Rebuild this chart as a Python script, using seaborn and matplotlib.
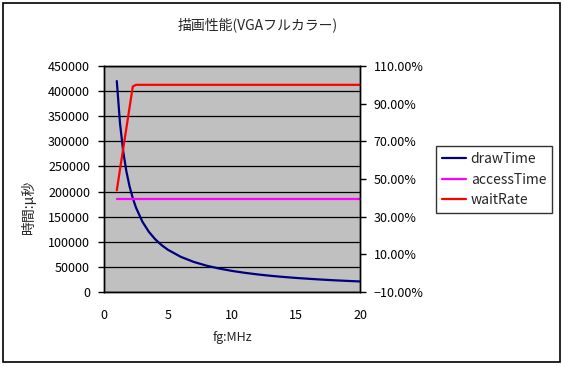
import matplotlib
matplotlib.use("Agg")
import matplotlib.pyplot as plt
import matplotlib.patches as mpatches
from matplotlib.lines import Line2D
import seaborn as sns
import pandas as pd
import numpy as np

fg = [1, 1.25, 1.5, 1.75, 2, 2.25, 2.5, 3, 3.5, 4, 4.5, 5, 6, 7, 8, 9, 10,
      11, 12, 13, 14, 15, 16, 17, 18, 19, 20]
draw_time = [420000, 336000, 280000, 240000, 210000, 186700, 168000, 140000,
             120000, 105000, 93300, 84000, 70000, 60000, 52500, 46700, 42000,
             38200, 35000, 32300, 30000, 28000, 26300, 24700, 23300, 22100, 21000]
access_time = [185000] * len(fg)
wait_rate = [0.440, 0.551, 0.661, 0.771, 0.881, 0.991, 1.0, 1.0, 1.0, 1.0, 1.0,
             1.0, 1.0, 1.0, 1.0, 1.0, 1.0, 1.0, 1.0, 1.0, 1.0, 1.0, 1.0, 1.0,
             1.0, 1.0, 1.0]

title = "描画性能(VGAフルカラー)"
xlabel = "fg:MHz"
ylabel = "時間:μ秒"
series_names = ["drawTime", "accessTime", "waitRate"]
colors = ["#000080", "#FF00FF", "#FF0000"]

df = pd.DataFrame({"fg": fg, "drawTime": draw_time, "accessTime": access_time,
                   "waitRate": wait_rate})

sns.set_theme(style="white")
plt.rcParams['font.family'] = ['Noto Sans CJK JP', 'DejaVu Sans']
plt.rcParams['axes.unicode_minus'] = True

fig = plt.figure(figsize=(5.64, 3.66), dpi=100)
fig.patch.set_facecolor("white")
# outer border
fig.add_artist(mpatches.Rectangle((3/564, 1-362/366), 557/564, 359/366,
                                  transform=fig.transFigure, fill=False,
                                  edgecolor="black", linewidth=1.2))

ax = fig.add_axes([104/564, 1-292/366, 256/564, 226/366])
ax.set_facecolor("#C0C0C0")
ax2 = ax.twinx()

sns.lineplot(data=df, x="fg", y="drawTime", ax=ax, color=colors[0], linewidth=1.6)
sns.lineplot(data=df, x="fg", y="accessTime", ax=ax, color=colors[1], linewidth=1.6)
sns.lineplot(data=df, x="fg", y="waitRate", ax=ax2, color=colors[2], linewidth=1.6)

ax.set_xlim(0, 20)
ax.set_ylim(0, 450000)
ax.set_xticks([0, 5, 10, 15, 20])
ax.set_yticks(np.arange(0, 450001, 50000))
ax.set_yticklabels([str(v) for v in range(0, 450001, 50000)])
ax.grid(axis="y", color="black", linewidth=0.9)
ax.grid(axis="x", visible=False)
ax.set_axisbelow(True)

ax2.set_ylim(-0.1, 1.1)
rt = [-0.1, 0.1, 0.3, 0.5, 0.7, 0.9, 1.1]
ax2.set_yticks(rt)
ax2.set_yticklabels([f"{v*100:.2f}%".replace("-", "−") for v in rt])
ax2.grid(False)

for a in (ax, ax2):
    for s in a.spines.values():
        s.set_color("black")
        s.set_linewidth(1.0)
        s.set_visible(True)

ax.tick_params(axis="y", direction="out", length=4, width=1, colors="black",
               labelsize=9, pad=6)
ax.tick_params(axis="x", direction="in", length=4, width=1, colors="black",
               labelsize=9, pad=12)
ax2.tick_params(axis="y", direction="out", length=4, width=1, colors="black",
                labelsize=9, pad=6)

ax.set_xlabel("")
ax.set_ylabel("")
ax2.set_ylabel("")
fig.text(232/564, 1-338/366, xlabel, ha="center", va="center", fontsize=9)
fig.text(28/564, 1-207/366, ylabel, ha="center", va="center", fontsize=10,
         rotation=90)
fig.text(258/564, 1-25/366, title, ha="center", va="center", fontsize=10)

handles = [Line2D([0], [0], color=c, linewidth=1.6) for c in colors]
leg = fig.legend(handles, series_names, loc="upper left",
                 bbox_to_anchor=(436/564, 1-146/366), frameon=True,
                 fontsize=10, handlelength=1.7, handletextpad=0.35,
                 borderpad=0.45, labelspacing=0.45, fancybox=False,
                 borderaxespad=0)
leg.get_frame().set_edgecolor("black")
leg.get_frame().set_linewidth(1.0)

fig.savefig("out.png", dpi=100)
